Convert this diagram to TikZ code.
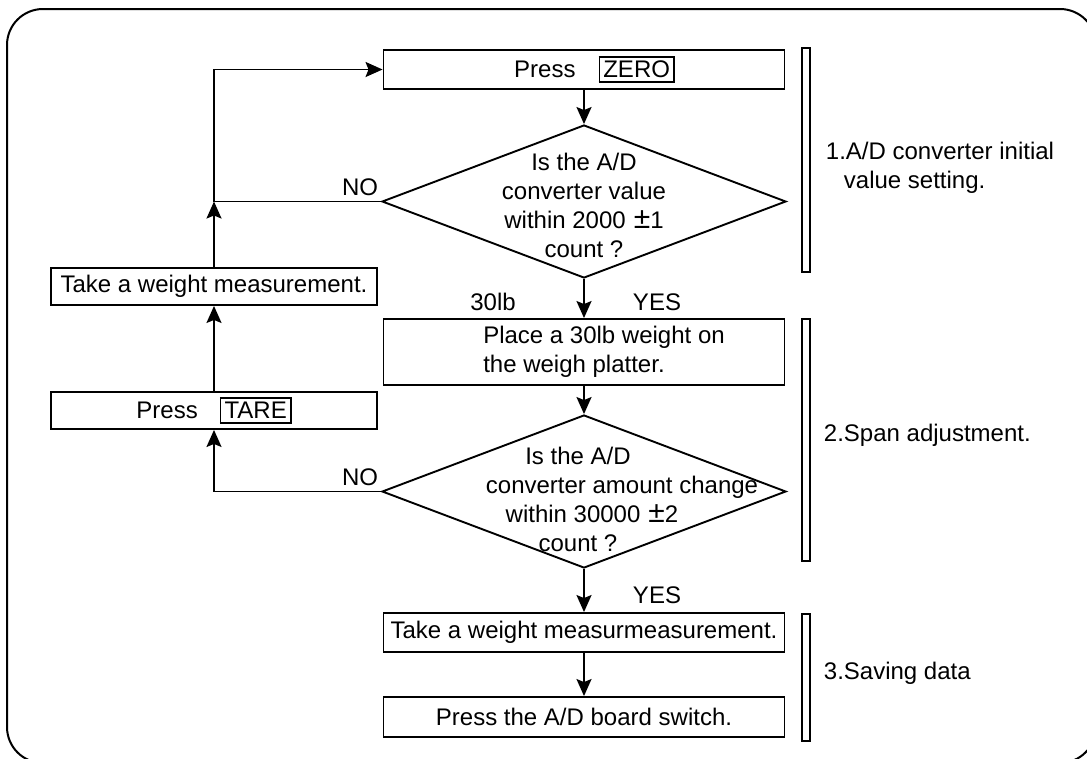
\documentclass[tikz,border=0pt]{standalone}
\usepackage{fontspec}
\setmainfont{Liberation Sans}
\usetikzlibrary{arrows.meta,positioning,shapes.geometric,calc}
\newcommand{\keycap}[1]{{\setlength{\fboxsep}{3.3pt}\setlength{\fboxrule}{1.5pt}\fbox{#1}}}
\newcommand{\pmtol}[1]{\hspace{8pt}{\fontsize{30}{29}\selectfont±}#1}

\begin{document}
\begin{tikzpicture}[
    x=1pt, y=-1pt,
    font=\fontsize{24}{29}\selectfont,
    box/.style={draw, line width=1.9pt, minimum width=401pt, minimum height=39pt, inner sep=2pt},
    sidebox/.style={draw, line width=1.9pt, minimum width=326pt, minimum height=37pt, inner sep=2pt},
    decision/.style={draw, diamond, line width=1.9pt, minimum width=404pt, minimum height=153pt, inner sep=0pt},
    qtext/.style={align=center, inner sep=0pt},
    stage/.style={draw, line width=1.5pt, minimum width=8pt, inner sep=0pt},
    note/.style={align=left, inner sep=0pt},
    lbl/.style={inner sep=2pt},
    arr/.style={-{Stealth[length=17pt, width=15pt, inset=3pt]}, line width=1.9pt},
]
\useasboundingbox (0,0) rectangle (1087,758);
\clip (0,0) rectangle (1087,758);
\draw[line width=2pt, rounded corners=36pt] (7,9) rectangle (1096,763);

% main column
\node[box] (zero) at (584,69.5) {\hspace*{21pt}Press\hspace{23pt}\keycap{ZERO}};
\node[decision, label={[qtext, yshift=-3.5pt]center:{Is the A/D\\converter value\\within 2000\pmtol{1}\\count ?}}] (q1) at (584,201.5) {};
\node[box, minimum height=66pt, align=left] (place) at (584,352) {\hspace*{40pt}Place a 30lb weight on\\\hspace*{40pt}the weigh platter.};
\node[decision, label={[qtext, xshift=-6pt, yshift=-7.5pt]center:{Is the A/D\\\hspace*{88pt}converter amount change\\\hspace*{28pt}within 30000\pmtol{2}\\count ?}}] (q2) at (584,491.5) {};
\node[box] (meas) at (584,632.5) {Take a weight measurmeasurement.};
\node[box, minimum height=40pt] (board) at (584,717) {Press the A/D board switch.};

% loop back column
\node[sidebox] (retake) at (214,286.5) {Take a weight measurement.};
\node[sidebox] (tare) at (214,410.5) {Press\hspace{22pt}\keycap{TARE}};

% stages
\node[stage, minimum height=224pt] (stage1) at (806,160) {};
\node[stage, minimum height=242pt] (stage2) at (806,440) {};
\node[stage, minimum height=127pt] (stage3) at (806,677.5) {};
\node[note, right=15pt of stage1, yshift=-8pt] (note1) {1.A/D converter initial\\\hspace*{18pt}value setting.};
\node[note, right=13pt of stage2, yshift=5pt] (note2) {2.Span adjustment.};
\node[note, right=13pt of stage3, yshift=4.5pt] (note3) {3.Saving data};

\draw[arr] (zero) -- (q1);
\draw[arr] (q1) -- (place)
    node[lbl, midway, xshift=-91pt, yshift=-3.5pt] {30lb}
    node[lbl, midway, xshift=73pt, yshift=-3.5pt] {YES};
\draw[arr] (place) -- (q2);
\draw[arr] (q2) -- (meas) node[lbl, midway, xshift=73pt, yshift=-5pt] {YES};
\draw[arr] (meas) -- (board);

\coordinate (jn) at (retake.north |- q1.west);
\draw[arr] (q1.west) -- node[lbl, pos=0, anchor=south east, yshift=3pt] {NO} (jn) |- (zero.west);
\draw[arr] (retake) -- (jn);
\draw[arr] (q2.west) -| node[lbl, pos=0, anchor=south east, yshift=3pt] {NO} (tare.south);
\draw[arr] (tare) -- (retake);
\end{tikzpicture}
\end{document}
